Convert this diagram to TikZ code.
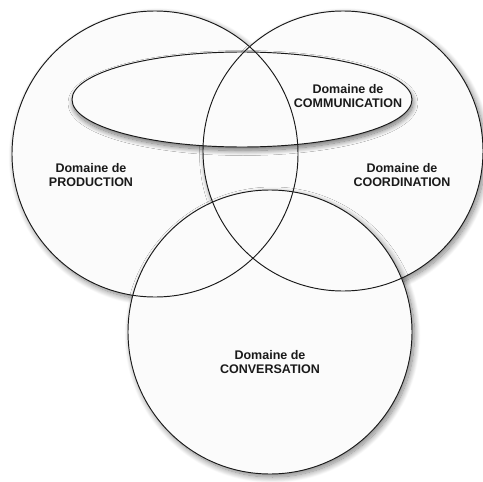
\documentclass[tikz,border=0pt]{standalone}
\usepackage{fontspec}
\setmainfont{Liberation Sans}
\usepackage{xcolor}
\usepackage{tikz}
\usetikzlibrary{shadows.blur,shapes.geometric}
\definecolor{ink}{HTML}{1A1A1A}
\definecolor{paper}{HTML}{FBFBFB}
\tikzset{
  domainbox/.style={circle,draw=none,fill=paper,inner sep=0pt,
                 blur shadow={shadow blur steps=14,shadow blur radius=6pt,shadow xshift=2.5pt,
                              shadow yshift=-3pt,shadow opacity=50}},
  commbox/.style={ellipse,draw=none,fill=paper,inner sep=0pt,
               blur shadow={shadow blur steps=14,shadow blur radius=5pt,shadow xshift=1pt,
                            shadow yshift=-3.5pt,shadow opacity=55}},
  rim/.style={draw=ink,line width=0.95pt},
  domaintext/.style={align=center,font=\fontsize{12.5}{14.5}\selectfont\bfseries,text=ink}
}
\begin{document}
\begin{tikzpicture}[x=1pt,y=-1pt]
  \useasboundingbox (0,0) rectangle (483,482);
  % the three domains and the ellipse, shadows first
  \node[domainbox,minimum size=286pt] (prod) at (155,154) {};
  \node[domainbox,minimum size=280pt] (coord) at (343,151) {};
  \node[domainbox,minimum size=284pt] (conv) at (270,332) {};
  \node[commbox,minimum width=340pt,minimum height=95pt] (comm) at (242,99.5) {};
  % outlines on top
  \draw[rim] (prod) circle[radius=143pt];
  \draw[rim] (coord) circle[radius=140pt];
  \draw[rim] (conv) circle[radius=142pt];
  \draw[rim] (comm) ellipse[x radius=170pt,y radius=47.5pt];
  % texts
  \node[domaintext] (commtxt) at (348,96) {Domaine de\\COMMUNICATION};
  \node[domaintext] (prodtxt) at (91,175) {Domaine de\\PRODUCTION};
  \node[domaintext] (coordtxt) at (402,175) {Domaine de\\COORDINATION};
  \node[domaintext] (convtxt) at (270,362) {Domaine de\\CONVERSATION};
\end{tikzpicture}
\end{document}
